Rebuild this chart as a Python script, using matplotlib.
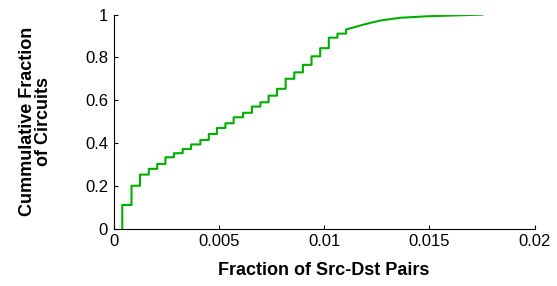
import numpy as np
import matplotlib
matplotlib.use("Agg")
import matplotlib.pyplot as plt

# CDF: staircase part, then a smooth tail
step_x = [0.00041, 0.00085, 0.00125, 0.00167, 0.00207, 0.00246, 0.00286,
          0.00328, 0.00368, 0.00412, 0.00452, 0.00491, 0.00531, 0.00570,
          0.00615, 0.00657, 0.00697, 0.00736, 0.00776, 0.00817, 0.00858,
          0.00899, 0.00940, 0.00981, 0.01022, 0.01063, 0.01104]
step_y = [0.11, 0.20, 0.252, 0.279, 0.302, 0.333, 0.352, 0.372, 0.393,
          0.414, 0.442, 0.470, 0.492, 0.520, 0.541, 0.570, 0.590, 0.621,
          0.653, 0.700, 0.730, 0.765, 0.805, 0.843, 0.892, 0.911, 0.930]
tail_x = [0.01186, 0.01265, 0.0136, 0.01487, 0.0162, 0.01752]
tail_y = [0.953, 0.972, 0.985, 0.992, 0.996, 1.0]

GREEN = "#00b000"

plt.rcParams["font.family"] = ["Liberation Sans", "DejaVu Sans"]

fig = plt.figure(figsize=(5.57, 2.86), dpi=100)
ax = fig.add_axes([0.204, 0.201, 0.756, 0.748])

prev = np.r_[0.0, step_y[:-1]]
px = np.r_[np.repeat(step_x, 2), tail_x]
py = np.r_[np.column_stack([prev, step_y]).ravel(), tail_y]
ax.plot(px, py, color=GREEN, linewidth=1.5)

ax.set_xlim(0, 0.02)
ax.set_ylim(0, 1)
ax.set_xticks([0, 0.005, 0.01, 0.015, 0.02])
ax.set_xticklabels(["0", "0.005", "0.01", "0.015", "0.02"])
ax.set_yticks([0, 0.2, 0.4, 0.6, 0.8, 1])
ax.set_yticklabels(["0", "0.2", "0.4", "0.6", "0.8", "1"])
ax.tick_params(direction="in", length=3, width=0.8, labelsize=12, pad=4)

ax.spines["top"].set_visible(False)
ax.spines["right"].set_visible(False)

ax.set_xlabel("Fraction of Src-Dst Pairs", fontsize=13, fontweight="bold", labelpad=9)
ax.set_ylabel("Cummulative Fraction\nof Circuits", fontsize=13, fontweight="bold",
              labelpad=24, linespacing=0.92)

fig.savefig("out.png", dpi=100)
